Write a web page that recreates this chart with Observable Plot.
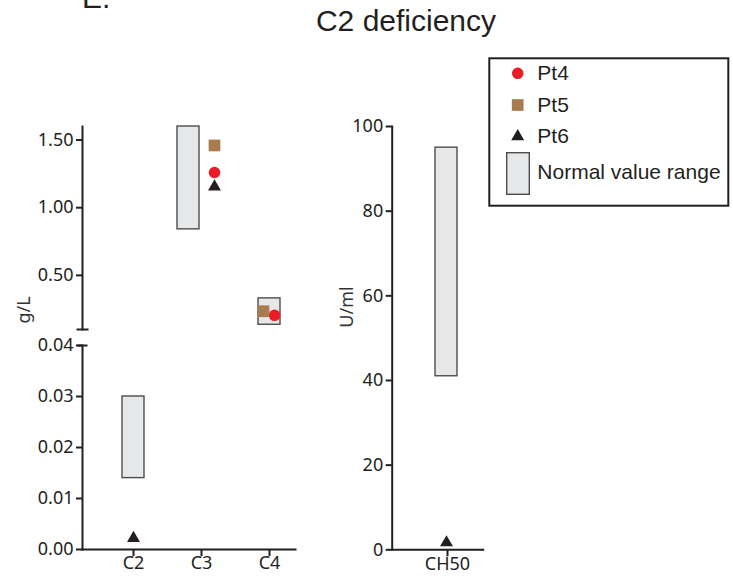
<!DOCTYPE html>
<html><head><meta charset="utf-8">
<script src="https://cdn.jsdelivr.net/npm/d3@7"></script>
<script src="https://cdn.jsdelivr.net/npm/@observablehq/plot@0.6"></script>
<style>
body{margin:0;background:#fff;}
#fig{position:relative;width:733px;height:578px;overflow:hidden;}
#fig > svg{position:absolute;left:0;top:0;}
</style></head><body><div id="fig"></div>
<script>
// ---------- data ----------
const components = ["C2", "C3", "C4"];
const normalLow  = [0.014, 0.84, 0.135];
const normalHigh = [0.030, 1.60, 0.33];
const pt4 = [null, 1.26, 0.205];
const pt5 = [null, 1.46, 0.235];
const pt6 = [0.0022, 1.155, null];

const ch50Label = ["CH50"];
const ch50Low = [41];
const ch50High = [95];
const ch50Pt4 = [null];
const ch50Pt5 = [null];
const ch50Pt6 = [1.7];

const seriesNames = ["Pt4", "Pt5", "Pt6"];
const topTicks = [0.5, 1.0, 1.5];
const bottomTicks = [0, 0.01, 0.02, 0.03, 0.04];
const rightTicks = [0, 20, 40, 60, 80, 100];

// ---------- styles ----------
const INK = "#231f20";
const colors = {Pt4: "#ed1c24", Pt5: "#a87c4f", Pt6: "#231f20"};
const symbols = {Pt4: "circle", Pt5: "square", Pt6: "triangle"};
const radius = {Pt4: 5.8, Pt5: 6.6, Pt6: 4.8};
const BOX_FILL = "#e6e7e8", BOX_STROKE = "#4d4d4d";
// small horizontal nudges used in the original figure
const nudge = {C3: {box: -13, Pt4: 13, Pt5: 13, Pt6: 13}, C4: {box: 0, Pt4: 5, Pt5: -6, Pt6: 0}, C2: {box: 0, Pt4: 0, Pt5: 0, Pt6: 0}, CH50: {box: -1, Pt4: 0, Pt5: 0, Pt6: -1}};

const hline = {draw(ctx, size) { const r = Math.sqrt(size / Math.PI); ctx.moveTo(-r, 0); ctx.lineTo(r, 0); }};

const ranges = components.map((c, i) => ({cat: c, lo: normalLow[i], hi: normalHigh[i]}));
const points = [];
components.forEach((c, i) => {
  [pt4, pt5, pt6].forEach((arr, s) => { if (arr[i] != null) points.push({cat: c, series: seriesNames[s], value: arr[i]}); });
});
const ch50Ranges = ch50Label.map((c, i) => ({cat: c, lo: ch50Low[i], hi: ch50High[i]}));
const ch50Points = [];
ch50Label.forEach((c, i) => {
  [ch50Pt4, ch50Pt5, ch50Pt6].forEach((arr, s) => { if (arr[i] != null) ch50Points.push({cat: c, series: seriesNames[s], value: arr[i]}); });
});

function dataMarks(rs, ps) {
  const m = [];
  rs.forEach(r => m.push(Plot.barY([r], {x: "cat", y1: "lo", y2: "hi", fill: BOX_FILL, stroke: BOX_STROKE, strokeWidth: 1.4, dx: nudge[r.cat].box})));
  ps.forEach(p => m.push(Plot.dot([p], {x: "cat", y: "value", symbol: symbols[p.series], r: radius[p.series], fill: colors[p.series], stroke: "none", dx: nudge[p.cat][p.series]})));
  return m;
}

const common = {
  width: 733, height: 578,
  style: {background: "transparent", fontFamily: "'Noto Sans', sans-serif", fontSize: "18px", color: INK, overflow: "visible"}
};
const yAxisOpts = {tickSize: 6, tickPadding: 3, strokeWidth: 2, fontSize: 18, label: null, stroke: INK};

// ---------- top segment of left panel ----------
const topRanges = ranges.filter(d => d.lo >= 0.1);
const topPoints = points.filter(d => d.value >= 0.1);
const topPlot = Plot.plot({
  ...common,
  marginLeft: 82, marginRight: 733 - 295, marginTop: 126, marginBottom: 578 - 329,
  x: {type: "band", domain: components, range: [120.7, 280.3], paddingInner: 0.68, paddingOuter: 0, axis: null},
  y: {domain: [0.1, 1.6], label: null, axis: null},
  marks: [
    ...dataMarks(topRanges, topPoints),
    Plot.frame({anchor: "left", stroke: INK, strokeWidth: 2}),
    Plot.axisY(topTicks, {...yAxisOpts, tickFormat: d3.format(".2f")}),
    Plot.dot([0.1], {y: d => d, frameAnchor: "left", symbol: hline, r: 6, stroke: INK, strokeWidth: 2, fill: "none"})
  ]
});

// ---------- bottom segment of left panel ----------
const botRanges = ranges.filter(d => d.hi <= 0.05);
const botPoints = points.filter(d => d.value <= 0.05);
const botPlot = Plot.plot({
  ...common,
  marginLeft: 82, marginRight: 733 - 295, marginTop: 345, marginBottom: 578 - 549,
  x: {type: "band", domain: components, range: [120.7, 280.3], paddingInner: 0.68, paddingOuter: 0, label: null, axis: null},
  y: {domain: [0, 0.04], label: null, axis: null},
  marks: [
    ...dataMarks(botRanges, botPoints),
    Plot.frame({anchor: "left", stroke: INK, strokeWidth: 2}),
    Plot.frame({anchor: "bottom", stroke: INK, strokeWidth: 2}),
    Plot.axisY(bottomTicks, {...yAxisOpts, tickFormat: d3.format(".2f")}),
    Plot.dot([0.04], {y: d => d, frameAnchor: "left", symbol: hline, r: 5, dx: 0, stroke: INK, strokeWidth: 2, fill: "none"}),
    Plot.axisX({tickSize: 7, tickPadding: 0, strokeWidth: 2, fontSize: 18, label: null, stroke: INK})
  ]
});

// ---------- right panel (CH50) ----------
const rightPlot = Plot.plot({
  ...common,
  marginLeft: 391.7, marginRight: 733 - 482.7, marginTop: 126, marginBottom: 578 - 549.3,
  x: {type: "band", domain: ch50Label, range: [436.2, 458.2], paddingInner: 0, paddingOuter: 0, label: null, axis: null},
  y: {domain: [0, 100], label: null, axis: null},
  marks: [
    ...dataMarks(ch50Ranges, ch50Points),
    Plot.frame({anchor: "left", stroke: INK, strokeWidth: 2}),
    Plot.frame({anchor: "bottom", stroke: INK, strokeWidth: 2}),
    Plot.axisY(rightTicks, {...yAxisOpts, tickFormat: d3.format("d")}),
    Plot.axisX({tickSize: 7, tickPadding: 0, strokeWidth: 2, fontSize: 18, label: null, stroke: INK})
  ]
});

const fig = document.getElementById("fig");
fig.append(topPlot, botPlot, rightPlot);

// ---------- titles, axis labels and legend ----------
const svg = d3.select(fig).append("svg").attr("width", 733).attr("height", 578)
  .style("font-family", "'Liberation Sans', Arial, sans-serif").style("fill", INK);
svg.append("text").attr("x", 82).attr("y", 7.5).attr("font-size", 30).text("E.");
svg.append("text").attr("x", 406).attr("y", 31).attr("font-size", 30).attr("text-anchor", "middle").text("C2 deficiency");
svg.append("text").attr("transform", "translate(30,310) rotate(-90)").attr("text-anchor", "middle")
  .attr("font-family", "'Noto Sans', sans-serif").attr("font-size", 18).attr("fill", "#333").text("g/L");
svg.append("text").attr("transform", "translate(353,307) rotate(-90)").attr("text-anchor", "middle")
  .attr("font-family", "'Noto Sans', sans-serif").attr("font-size", 18).attr("fill", "#333").text("U/ml");

const lg = svg.append("g");
lg.append("rect").attr("x", 489.3).attr("y", 58.3).attr("width", 239).attr("height", 147.4)
  .attr("fill", "white").attr("stroke", INK).attr("stroke-width", 2);
const symType = {circle: d3.symbolCircle, square: d3.symbolSquare, triangle: d3.symbolTriangle};
const rowsY = [73.3, 105, 136.5];
seriesNames.forEach((s, i) => {
  const r = radius[s];
  lg.append("path").attr("d", d3.symbol(symType[symbols[s]], Math.PI * r * r)())
    .attr("transform", `translate(517.7,${rowsY[i]})`).attr("fill", colors[s]);
  lg.append("text").attr("x", 537.3).attr("y", rowsY[i] + 6.5).attr("font-size", 21).text(s);
});
lg.append("rect").attr("x", 506.7).attr("y", 152.7).attr("width", 22.6).attr("height", 41.6)
  .attr("fill", BOX_FILL).attr("stroke", BOX_STROKE).attr("stroke-width", 1.4);
lg.append("text").attr("x", 537.3).attr("y", 178.5).attr("font-size", 21).text("Normal value range");
</script></body></html>
